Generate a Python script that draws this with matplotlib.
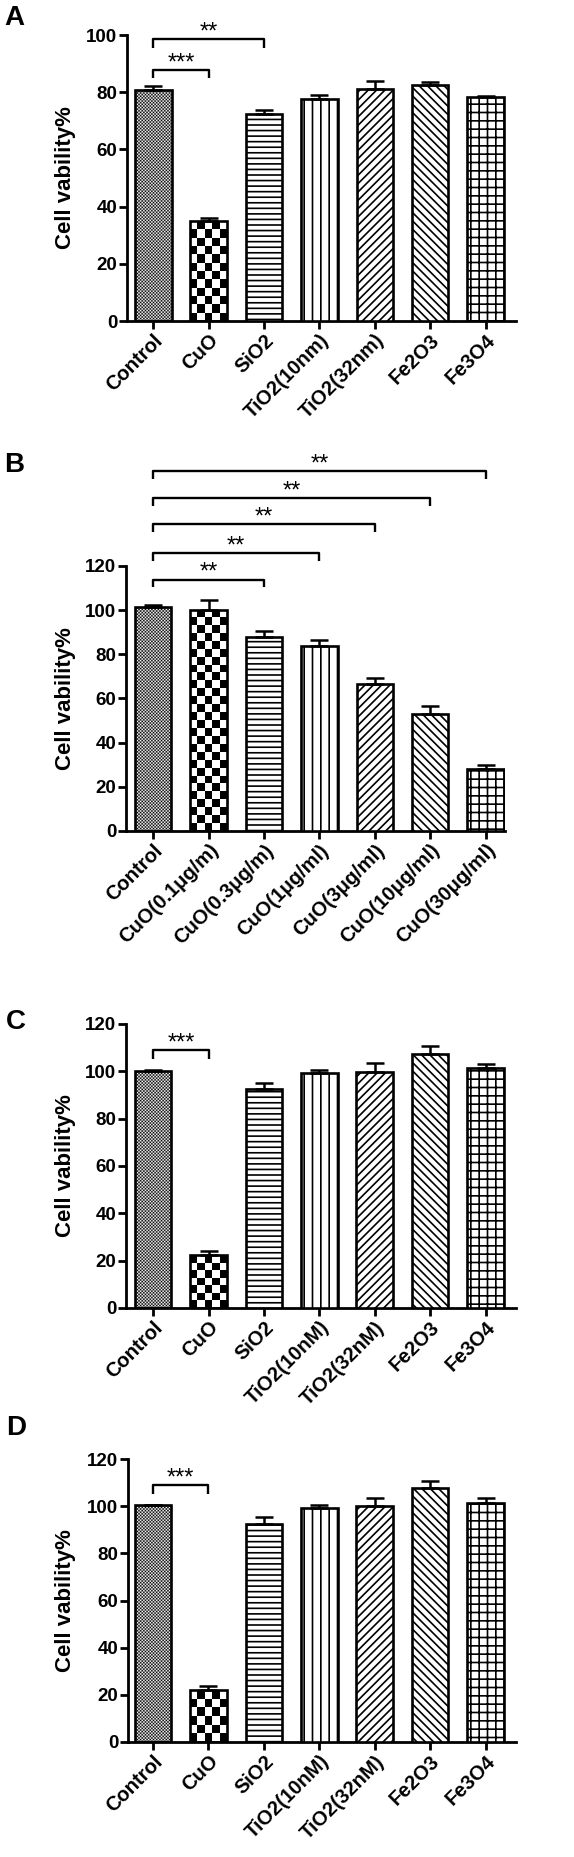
import numpy as np
import matplotlib
matplotlib.use("Agg")
import matplotlib.pyplot as plt

plt.rcParams['font.family'] = ['Liberation Sans', 'DejaVu Sans']
plt.rcParams['hatch.linewidth'] = 1.2

# ---------------- data ----------------
cats_A = ['Control', 'CuO', 'SiO2', 'TiO2(10nm)', 'TiO2(32nm)', 'Fe2O3', 'Fe3O4']
vals_A = [80.8, 34.8, 72.5, 77.7, 81.1, 82.5, 78.2]
errs_A = [1.4, 1.2, 1.4, 1.2, 2.9, 1.1, 0.3]

cats_B = ['Control', 'CuO(0.1μg/m)', 'CuO(0.3μg/m)', 'CuO(1μg/ml)', 'CuO(3μg/ml)',
          'CuO(10μg/ml)', 'CuO(30μg/ml)']
vals_B = [101.4, 100.3, 87.9, 84.0, 66.4, 53.2, 28.3]
errs_B = [1.1, 4.3, 2.6, 2.5, 2.8, 3.3, 1.5]

cats_C = ['Control', 'CuO', 'SiO2', 'TiO2(10nM)', 'TiO2(32nM)', 'Fe2O3', 'Fe3O4']
vals_C = [100.1, 22.2, 92.4, 99.2, 99.7, 107.5, 101.4]
errs_C = [0.3, 1.7, 2.6, 1.2, 3.7, 3.0, 1.7]

cats_D = ['Control', 'CuO', 'SiO2', 'TiO2(10nM)', 'TiO2(32nM)', 'Fe2O3', 'Fe3O4']
vals_D = [100.3, 21.9, 92.5, 99.2, 99.9, 107.8, 101.4]
errs_D = [0.2, 1.9, 2.8, 1.3, 3.6, 2.9, 1.9]

# significance: (index_a, index_b, bracket height, label)
sig_A = [(0, 1, 87.8, '***'), (0, 2, 98.6, '**')]
sig_B = [(0, 2, 113.8, '**'), (0, 3, 125.7, '**'), (0, 4, 138.9, '**'),
         (0, 5, 150.6, '**'), (0, 6, 162.8, '**')]
sig_C = [(0, 1, 109.0, '***')]
sig_D = [(0, 1, 109.0, '***')]

panel_letters = ['A', 'B', 'C', 'D']
ylabel = 'Cell vability%'

# ---------------- style ----------------
hatches = ['CHECK_FINE', 'CHECK_COARSE', '---', '||', '////', '\\\\\\\\', '++']

W, H = 574, 1857
DPI = 100
fig = plt.figure(figsize=(W / DPI, H / DPI), dpi=DPI)

layouts = [
    dict(box=(127, 35, 516, 321), ymax=100, xlim=(-0.475, 6.55), letter=(4, 18), tick=3.0),
    dict(box=(126, 566, 505, 831), ymax=120, xlim=(-0.49, 6.35), letter=(4, 465), tick=3.4),
    dict(box=(126, 1024, 516, 1308), ymax=120, xlim=(-0.49, 6.55), letter=(6, 1022), tick=3.8),
    dict(box=(128, 1459, 516, 1742), ymax=120, xlim=(-0.45, 6.55), letter=(6, 1428), tick=3.8),
]
panels = [(cats_A, vals_A, errs_A, sig_A), (cats_B, vals_B, errs_B, sig_B),
          (cats_C, vals_C, errs_C, sig_C), (cats_D, vals_D, errs_D, sig_D)]

BAR_W = 0.66
for lay, (cats, vals, errs, sigs), letter in zip(layouts, panels, panel_letters):
    l, t, r, b = lay['box']
    ax = fig.add_axes([l / W, 1 - b / H, (r - l) / W, (b - t) / H])
    x = np.arange(len(cats))
    bars = ax.bar(x, vals, width=BAR_W, color='white', edgecolor='black',
                  linewidth=1.9, zorder=3)
    ax.set_xlim(*lay['xlim'])
    ax.set_ylim(0, lay['ymax'])
    xr = lay['xlim'][1] - lay['xlim'][0]
    px_x = (r - l) / xr
    px_y = (b - t) / lay['ymax']
    for i, (p, h) in enumerate(zip(bars, hatches)):
        if h.startswith('CHECK'):
            cell = 1.6 if h == 'CHECK_FINE' else 8.0
            p.set_facecolor('none')
            wpx = BAR_W * px_x
            hpx = vals[i] * px_y
            nx = max(1, int(round(wpx / cell)))
            ny = max(1, int(round(hpx / cell)))
            yy, xx = np.indices((ny, nx))
            arr = ((yy + xx) % 2).astype(float)
            interp = 'antialiased' if h == 'CHECK_FINE' else 'nearest'
            im = ax.imshow(arr, cmap='gray', vmin=0, vmax=1, origin='lower',
                           extent=[x[i] - BAR_W / 2, x[i] + BAR_W / 2, 0, vals[i]],
                           aspect='auto', interpolation=interp, zorder=2)
            im.set_clip_path(p)
        else:
            p.set_hatch(h)
    ax.errorbar(x, vals, yerr=[np.zeros(len(vals)), errs], fmt='none',
                ecolor='black', elinewidth=1.8, capsize=6.3, capthick=1.8, zorder=4)
    ax.set_xlim(*lay['xlim'])
    ax.set_ylim(0, lay['ymax'])

    for s in ['top', 'right']:
        ax.spines[s].set_visible(False)
    for s in ['left', 'bottom']:
        ax.spines[s].set_linewidth(2.0)
    ax.set_yticks(np.arange(0, lay['ymax'] + 1, 20))
    ax.tick_params(axis='both', direction='out', length=5.5, width=2.0,
                   labelsize=13.5, pad=1.5)
    for lab in ax.get_yticklabels():
        lab.set_fontweight('bold')
    ax.set_xticks(x)
    ax.set_xticklabels(cats, rotation=45, ha='right', rotation_mode='anchor',
                       fontweight='bold', fontsize=14.5)

    # significance brackets
    tl = lay['tick']
    for a, bb, yh, lab in sigs:
        ax.plot([a, a, bb, bb], [yh - tl, yh, yh, yh - tl], color='black',
                lw=1.7, clip_on=False, solid_capstyle='butt', zorder=5)
        ax.annotate(lab, xy=((a + bb) / 2, yh), xytext=(0, 0.5),
                    textcoords='offset points', ha='center', va='baseline',
                    fontsize=17, annotation_clip=False)

    fig.text(66 / W, 1 - ((t + b) / 2) / H, ylabel, rotation=90, ha='center',
             va='center', fontsize=16, fontweight='bold')
    fig.text(lay['letter'][0] / W, 1 - lay['letter'][1] / H, letter, ha='left',
             va='center', fontsize=20, fontweight='bold')

fig.savefig('out.png', dpi=DPI)
